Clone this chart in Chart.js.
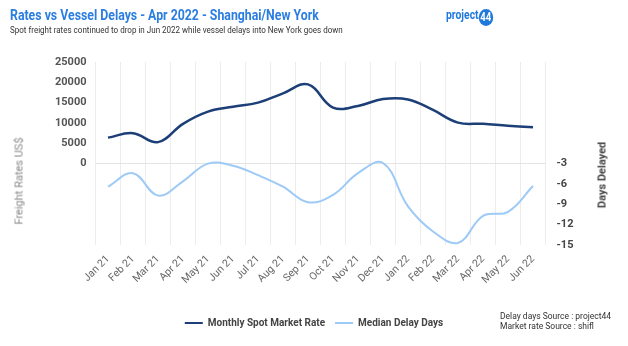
<!DOCTYPE html>
<html>
<head>
<meta charset="utf-8">
<script src="https://cdn.jsdelivr.net/npm/chart.js@4.4.1/dist/chart.umd.min.js"></script>
<style>
  html, body { margin: 0; padding: 0; background: #fff; }
  #wrap { position: relative; width: 628px; height: 346px; overflow: hidden; font-family: Roboto, sans-serif; }
  #chart { position: absolute; left: 0; top: 0; }
  .txt { position: absolute; white-space: nowrap; }
  #title { left: 10px; top: 6px; font-family: Roboto, sans-serif; font-size: 15px; font-weight: bold; color: #2a7de1; transform: scaleX(0.82); transform-origin: left top; }
  #subtitle { left: 10px; top: 24px; font-family: Roboto, sans-serif; font-size: 9.5px; font-weight: normal; color: #333; transform: scaleX(0.845); transform-origin: left top; }
  #logo { left: 446px; top: 7px; font-family: Roboto, sans-serif; font-size: 13px; font-weight: bold; color: #1f78dc; transform: scaleX(0.8); transform-origin: left top; }
  #logo span { display: inline-block; width: 18px; height: 17px; border-radius: 50%; background: #1f78dc; color: #fff; text-align: center; line-height: 17px; font-size: 12px; margin-left: 0; vertical-align: -2px; }
  .rot { transform: translate(-50%, -50%) rotate(-90deg); }
  #ytitle { left: 19px; top: 181px; font-family: Roboto, sans-serif; font-size: 11px; font-weight: normal; color: #888; }
  #y2title { left: 602px; top: 175px; font-family: Roboto, sans-serif; font-size: 11px; font-weight: bold; color: #444; }
  #source { left: 500px; top: 311px; font-family: Roboto, sans-serif; font-size: 8.5px; font-weight: normal; color: #333; line-height: 10px; }
</style>
</head>
<body>
<div id="wrap">
  <canvas id="chart" width="628" height="346"></canvas>
  <div class="txt" id="title">Rates vs Vessel Delays - Apr 2022 - Shanghai/New York</div>
  <div class="txt" id="subtitle">Spot freight rates continued to drop in Jun 2022 while vessel delays into New York goes down</div>
  <div class="txt" id="logo">project<span>44</span></div>
  <div class="txt rot" id="ytitle">Freight Rates US$</div>
  <div class="txt rot" id="y2title">Days Delayed</div>
  <div class="txt" id="source">Delay days Source : project44<br>Market rate Source : shifl</div>
</div>
<script>
const months = ['Jan 21', 'Feb 21', 'Mar 21', 'Apr 21', 'May 21', 'Jun 21', 'Jul 21', 'Aug 21', 'Sep 21',
  'Oct 21', 'Nov 21', 'Dec 21', 'Jan 22', 'Feb 22', 'Mar 22', 'Apr 22', 'May 22', 'Jun 22']
const spotRate = [6400, 7500, 5300, 9800, 12800, 14000, 15000, 17300, 19500,
  13800, 14200, 15900, 15800, 13200, 10100, 9800, 9300, 8950]
const delayDays = [-6.4, -4.4, -7.7, -5.6, -3.0, -3.3, -4.7, -6.4, -8.7,
  -7.6, -4.4, -2.9, -9.3, -13.0, -14.7, -10.7, -10.1, -6.3]
const rateTicks = [0, 5000, 10000, 15000, 20000, 25000]
const delayTicks = [-3, -6, -9, -12, -15]

const darkBlue = '#1c3f77'
const lightBlue = '#9dcaf6'
const gridGrey = '#ececec'

Chart.defaults.font.family = 'Roboto, sans-serif'

new Chart(document.getElementById('chart'), {
  type: 'line',
  data: {
    labels: months,
    datasets: [
      {
        label: 'Monthly Spot Market Rate',
        data: spotRate,
        yAxisID: 'y',
        borderColor: darkBlue,
        backgroundColor: darkBlue,
        borderWidth: 2.5,
        pointRadius: 0,
        tension: 0.4
      },
      {
        label: 'Median Delay Days',
        data: delayDays,
        yAxisID: 'y2',
        borderColor: lightBlue,
        backgroundColor: lightBlue,
        borderWidth: 2,
        pointRadius: 0,
        tension: 0.4
      }
    ]
  },
  options: {
    responsive: false,
    animation: false,
    layout: { padding: { top: 62, bottom: 8, left: 0, right: 0 } },
    plugins: {
      tooltip: { enabled: false },
      legend: {
        position: 'bottom',
        labels: {
          boxWidth: 18,
          boxHeight: 2,
          padding: 10,
          color: '#444',
          font: { size: 10, weight: 'bold' },
          generateLabels: (chart) => {
            // thin line markers, no stroke round the box
            const items = Chart.defaults.plugins.legend.labels.generateLabels(chart)
            items.forEach(item => { item.lineWidth = 0 })
            return items
          }
        }
      }
    },
    scales: {
      x: {
        offset: true,
        grid: { offset: true, color: gridGrey, drawTicks: false },
        border: { display: false },
        ticks: { minRotation: 45, maxRotation: 45, padding: 8, color: '#666', font: { size: 10.5 } },
        afterFit: (scale) => { scale.height = 63 }
      },
      y: {
        position: 'left',
        min: -20000,
        max: 25000,
        afterBuildTicks: (scale) => { scale.ticks = rateTicks.map(v => ({ value: v })) },
        ticks: { padding: 9, color: '#555', font: { size: 11, weight: 'bold' }, callback: (v) => String(v) },
        grid: { color: (ctx) => ctx.tick && ctx.tick.value === 0 ? '#e4e4e4' : 'transparent', drawTicks: false },
        border: { display: false },
        afterFit: (scale) => { scale.width = 95.5 }
      },
      y2: {
        position: 'right',
        min: -15,
        max: 12,
        afterBuildTicks: (scale) => { scale.ticks = delayTicks.map(v => ({ value: v })) },
        ticks: { padding: 11, color: '#444', font: { size: 11, weight: 'bold' }, callback: (v) => String(v) },
        grid: { drawOnChartArea: false, drawTicks: false },
        border: { display: false },
        afterFit: (scale) => { scale.width = 82.5 }
      }
    }
  }
})
</script>
</body>
</html>
